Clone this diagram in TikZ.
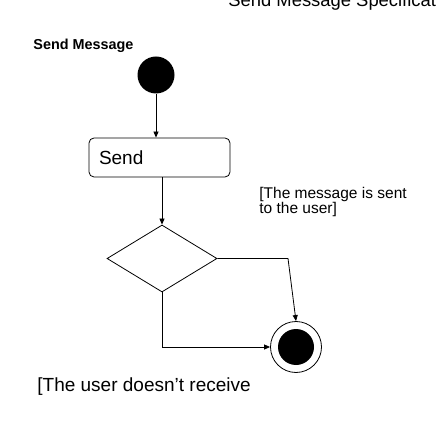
\documentclass[tikz,border=0pt]{standalone}
\usepackage{fontspec}
\setmainfont{Liberation Sans}
\usetikzlibrary{positioning,shapes.geometric,arrows.meta}
\tikzset{initial/.style={circle,fill=black,inner sep=0pt,minimum size=37pt},
	 final/.style={circle,draw,inner sep=0pt,minimum size=51pt,
	   path picture={\fill (path picture bounding box.center) circle (18pt);}},
	 action/.style={rectangle,draw,rounded corners=5pt,minimum width=141pt,
	   minimum height=39pt,text width=121pt,align=left,inner sep=10pt,
	   font=\fontsize{19}{22}\selectfont},
	 decision/.style={diamond,draw,inner sep=0pt,minimum width=110pt,minimum height=67pt},
	 guard/.style={inner sep=0pt,align=left},
	 flow/.style={-{Triangle[length=6pt,width=5pt]}}
	 }

\begin{document}
\begin{tikzpicture}[x=1pt,y=-1pt,line width=0.8pt]
      \useasboundingbox (0,0) rectangle (436,430);
      \node[anchor=base west,inner sep=0pt,font=\fontsize{18.4}{22}\selectfont] (title) at (228,7) {Send Message Specification};
      \node[anchor=base west,inner sep=0pt,font=\fontsize{14.4}{17}\selectfont\bfseries] (name) at (33,50) {Send Message};
      \node[initial] (start) at (156,75) {};
      \node[action] (send) at (159.5,157.5) {Send};
      \node[decision] (choice) at (162,258.5) {};
      \node[final] (finish) at (296,347) {};
      \coordinate (bend) at (288,258.5);
      \node[guard,anchor=north west,font=\fontsize{15.5}{15}\selectfont] (sent) at (259,187) {[The message is sent\\to the user]};
      \node[guard,anchor=base west,font=\fontsize{19}{22}\selectfont] (lost) at (37,391) {[The user doesn’t receive};
      \draw[flow] (start) -- (start |- send.north);
      \draw[flow] (choice.north |- send.south) -- (choice.north);
      \draw[flow] (choice.east) -- (bend) -- (finish.north);
      \draw[flow] (choice.south) -- (choice.south |- finish.west) -- (finish.west);
  \end{tikzpicture}
\end{document}
